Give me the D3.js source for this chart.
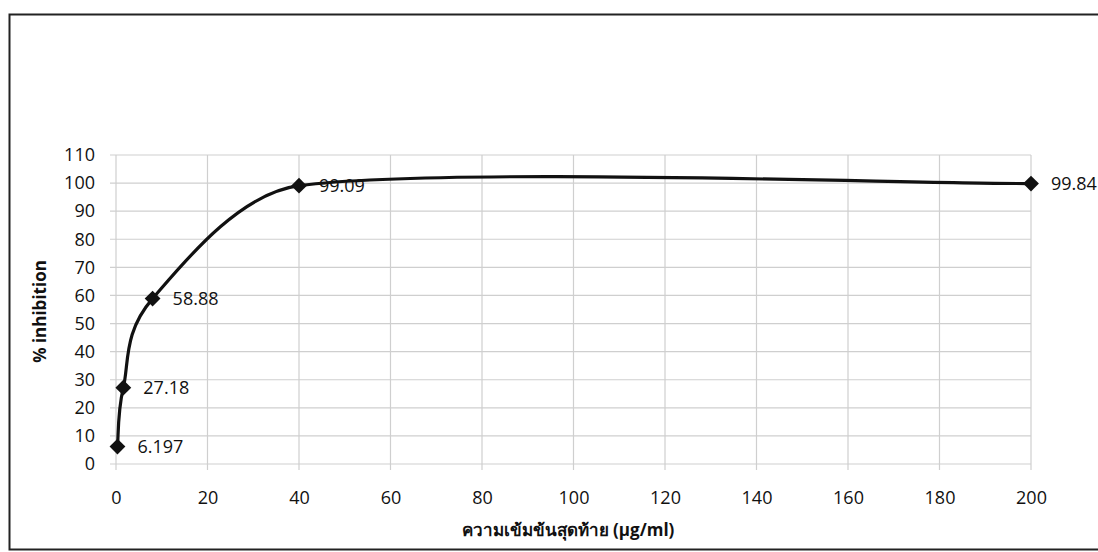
<!DOCTYPE html>
<html>
<head>
<meta charset="utf-8">
<script src="https://cdn.jsdelivr.net/npm/d3@7"></script>
<style>
  html, body { margin: 0; padding: 0; background: #fff; }
  svg { display: block; }
  text { font-family: "Open Sans", "Noto Sans", "DejaVu Sans", sans-serif; fill: #111; }
</style>
</head>
<body>
<svg id="chart" width="1098" height="552"></svg>
<script>
const concentrations = [0.32, 1.6, 8, 40, 200];
const inhibition = [6.197, 27.18, 58.88, 99.09, 99.84];
const pointLabels = ["6.197", "27.18", "58.88", "99.09", "99.84"];
const xTicks = [0, 20, 40, 60, 80, 100, 120, 140, 160, 180, 200];
const yTicks = [0, 10, 20, 30, 40, 50, 60, 70, 80, 90, 100, 110];
const xTitle = "ความเข้มข้นสุดท้าย (µg/ml)";
const yTitle = "% inhibition";

const data = concentrations.map((c, i) => ({ x: c, y: inhibition[i], label: pointLabels[i] }));

// Spreadsheet-style smoothed curve (cubic Bezier; handle = chord/6, reduced when it would exceed half the segment)
function curveSpreadsheetSmooth(context) {
  let pts = [];
  return {
    areaStart() {}, areaEnd() {},
    lineStart() { pts = []; },
    point(x, y) { pts.push([+x, +y]); },
    lineEnd() {
      const n = pts.length;
      if (!n) return;
      context.moveTo(pts[0][0], pts[0][1]);
      const dist = (a, b) => Math.hypot(b[0] - a[0], b[1] - a[1]);
      for (let i = 0; i < n - 1; i++) {
        const p0 = pts[Math.max(0, i - 1)], p1 = pts[i], p2 = pts[i + 1], p3 = pts[Math.min(n - 1, i + 2)];
        const d12 = dist(p1, p2), d02 = dist(p0, p2), d13 = dist(p1, p3);
        let f = 1 / 6, g = 1 / 6;
        if (d02 / 6 >= d12 / 2 && d02 > 0) f = d12 / (3 * d02);
        if (d13 / 6 >= d12 / 2 && d13 > 0) g = d12 / (3 * d13);
        const b1 = [p1[0] + (p2[0] - p0[0]) * f, p1[1] + (p2[1] - p0[1]) * f];
        const b2 = [p2[0] - (p3[0] - p1[0]) * g, p2[1] - (p3[1] - p1[1]) * g];
        context.bezierCurveTo(b1[0], b1[1], b2[0], b2[1], p2[0], p2[1]);
      }
    }
  };
}

const svg = d3.select("#chart");
const plot = { left: 116, right: 1031, top: 155, bottom: 464 };

// outer chart border
svg.append("rect")
  .attr("x", 9.5).attr("y", 14.5)
  .attr("width", 1100).attr("height", 535)
  .attr("fill", "none").attr("stroke", "#222").attr("stroke-width", 2);

const x = d3.scaleLinear().domain([0, 200]).range([plot.left, plot.right]);
const y = d3.scaleLinear().domain([0, 110]).range([plot.bottom, plot.top]);

// gridlines
const g = svg.append("g");
g.selectAll("line.h").data(yTicks).join("line")
  .attr("x1", plot.left - 6).attr("x2", plot.right)
  .attr("y1", d => y(d)).attr("y2", d => y(d))
  .attr("stroke", "#cfcfcf").attr("stroke-width", 1.2);
g.selectAll("line.v").data(xTicks).join("line")
  .attr("x1", d => x(d)).attr("x2", d => x(d))
  .attr("y1", plot.top).attr("y2", plot.bottom + 6)
  .attr("stroke", "#cfcfcf").attr("stroke-width", 1.2);

// axes (labels only)
const xAxis = d3.axisBottom(x).tickValues(xTicks).tickSize(0).tickPadding(0);
const xg = svg.append("g").attr("transform", `translate(0,${plot.bottom + 40})`).call(xAxis);
xg.select(".domain").remove();
xg.selectAll("text").attr("font-size", 18).attr("dy", 0).attr("fill", "#111")
  .attr("font-family", "'Open Sans', sans-serif");

const yAxis = d3.axisLeft(y).tickValues(yTicks).tickSize(0).tickPadding(0);
const yg = svg.append("g").attr("transform", `translate(${plot.left - 21},0)`).call(yAxis);
yg.select(".domain").remove();
yg.selectAll("text").attr("font-size", 18).attr("fill", "#111")
  .attr("font-family", "'Open Sans', sans-serif");

// smoothed line
const line = d3.line().x(d => x(d.x)).y(d => y(d.y)).curve(curveSpreadsheetSmooth);
svg.append("path").datum(data)
  .attr("d", line).attr("fill", "none")
  .attr("stroke", "#111").attr("stroke-width", 3.2);

// markers (rotated squares)
const diamond = d3.symbol().type(d3.symbolSquare).size(125);
svg.selectAll("path.m").data(data).join("path")
  .attr("transform", d => `translate(${x(d.x)},${y(d.y)}) rotate(45)`)
  .attr("d", diamond).attr("fill", "#111");

// data labels
svg.selectAll("text.lbl").data(data).join("text")
  .attr("x", d => x(d.x) + 20).attr("y", d => y(d.y) + 6)
  .attr("font-size", 18).text(d => d.label);

// axis titles
svg.append("text")
  .attr("transform", `translate(46,${(plot.top + plot.bottom) / 2 + 2}) rotate(-90)`)
  .attr("text-anchor", "middle").attr("font-size", 17).attr("font-weight", "bold")
  .text(yTitle);

svg.append("text")
  .attr("x", 568).attr("y", 536)
  .attr("text-anchor", "middle").attr("font-size", 17).attr("font-weight", "bold")
  .attr("font-family", "'Liberation Serif', 'Noto Sans Thai', serif")
  .text(xTitle);
</script>
</body>
</html>
